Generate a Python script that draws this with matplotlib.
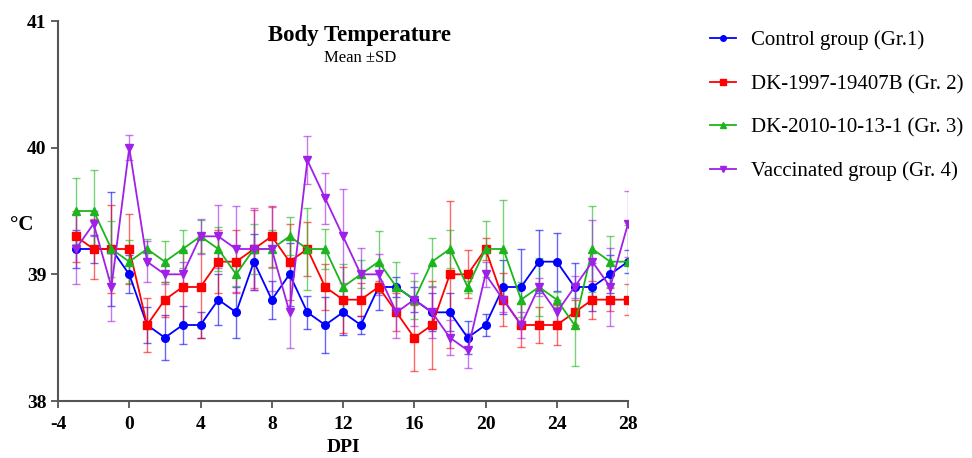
import matplotlib
matplotlib.use("Agg")
import matplotlib.pyplot as plt
from matplotlib.lines import Line2D

plt.rcParams['font.family'] = ['Liberation Serif', 'DejaVu Serif']
plt.rcParams['axes.unicode_minus'] = False

dpi = list(range(-3, 29))

control_mean = [39.2, 39.2, 39.2, 39.0, 38.6, 38.5, 38.6, 38.6, 38.8, 38.7, 39.1,
                38.8, 39.0, 38.7, 38.6, 38.7, 38.6, 38.9, 38.9, 38.8, 38.7, 38.7,
                38.5, 38.6, 38.9, 38.9, 39.1, 39.1, 38.9, 38.9, 39.0, 39.1]
control_sd = [0.15, 0.11, 0.45, 0.15, 0.14, 0.18, 0.15, 0.10, 0.20, 0.20, 0.22,
              0.15, 0.25, 0.13, 0.22, 0.18, 0.07, 0.18, 0.08, 0.10, 0.15, 0.15,
              0.13, 0.09, 0.21, 0.30, 0.25, 0.23, 0.19, 0.19, 0.15, 0.09]

gr2_mean = [39.3, 39.2, 39.2, 39.2, 38.6, 38.8, 38.9, 38.9, 39.1, 39.1, 39.2,
            39.3, 39.1, 39.2, 38.9, 38.8, 38.8, 38.9, 38.7, 38.5, 38.6, 39.0,
            39.0, 39.2, 38.8, 38.6, 38.6, 38.6, 38.7, 38.8, 38.8, 38.8]
gr2_sd = [0.20, 0.24, 0.35, 0.28, 0.21, 0.14, 0.29, 0.40, 0.25, 0.25, 0.31,
          0.24, 0.30, 0.21, 0.18, 0.26, 0.13, 0.05, 0.15, 0.26, 0.35, 0.58,
          0.19, 0.09, 0.21, 0.17, 0.14, 0.16, 0.10, 0.15, 0.09, 0.12]

gr3_mean = [39.5, 39.5, 39.2, 39.1, 39.2, 39.1, 39.2, 39.3, 39.2, 39.0, 39.2,
            39.2, 39.3, 39.2, 39.2, 38.9, 39.0, 39.1, 38.9, 38.8, 39.1, 39.2,
            38.9, 39.2, 39.2, 38.8, 38.9, 38.8, 38.6, 39.2, 39.1, 39.1]
gr3_sd = [0.26, 0.32, 0.22, 0.17, 0.08, 0.16, 0.15, 0.13, 0.17, 0.09, 0.20,
          0.15, 0.15, 0.32, 0.16, 0.18, 0.11, 0.24, 0.20, 0.15, 0.19, 0.15,
          0.05, 0.22, 0.39, 0.14, 0.23, 0.06, 0.32, 0.34, 0.20, 0.29]

gr4_mean = [39.2, 39.4, 38.9, 40.0, 39.1, 39.0, 39.0, 39.3, 39.3, 39.2, 39.2,
            39.2, 38.7, 39.9, 39.6, 39.3, 39.0, 39.0, 38.7, 38.8, 38.7, 38.5,
            38.4, 39.0, 38.8, 38.6, 38.9, 38.7, 38.9, 39.1, 38.9, 39.4]
gr4_sd = [0.28, 0.10, 0.27, 0.10, 0.16, 0.08, 0.10, 0.14, 0.25, 0.34, 0.32,
          0.33, 0.28, 0.19, 0.20, 0.37, 0.21, 0.16, 0.20, 0.21, 0.20, 0.14,
          0.14, 0.10, 0.10, 0.10, 0.07, 0.10, 0.09, 0.33, 0.31, 0.26]

series_labels = ["Control group (Gr.1)", "DK-1997-19407B (Gr. 2)",
                 "DK-2010-10-13-1 (Gr. 3)", "Vaccinated group (Gr. 4)"]
x_ticks = [-4, 0, 4, 8, 12, 16, 20, 24, 28]
y_ticks = [38, 39, 40, 41]

series = [
    (control_mean, control_sd, "#0000FF", "o", 5.5),
    (gr2_mean, gr2_sd, "#FF0000", "s", 5.5),
    (gr3_mean, gr3_sd, "#1DB51D", "^", 5.5),
    (gr4_mean, gr4_sd, "#A020E8", "v", 5.5),
]

fig = plt.figure(figsize=(9.72, 4.58), dpi=100)
ax = fig.add_axes([58 / 972, 1 - 401 / 458, (628 - 58) / 972, (401 - 21) / 458])

handles = []
for (m, sd, col, mk, ms), lab in zip(series, series_labels):
    ax.errorbar(dpi, m, yerr=sd, fmt="none", ecolor=col, elinewidth=1.0,
                capsize=3, capthick=1.0, alpha=0.6, zorder=2)
    ax.plot(dpi, m, color=col, lw=1.3, marker=mk, ms=ms, zorder=3)
    handles.append(Line2D([], [], color=col, lw=1.3, marker=mk, ms=4))

ax.set_xlim(-4, 28)
ax.set_ylim(38, 41)
ax.set_xticks(x_ticks)
ax.set_yticks(y_ticks)
for s in ("top", "right"):
    ax.spines[s].set_visible(False)
for s in ("left", "bottom"):
    ax.spines[s].set_color("#555555")
    ax.spines[s].set_linewidth(1.5)
ax.tick_params(direction="out", length=5, width=1.3, color="#555555",
               labelsize=14)
ax.tick_params(axis="x", pad=6)
for t in ax.get_xticklabels() + ax.get_yticklabels():
    t.set_fontweight("bold")

ax.set_xlabel("DPI", fontsize=14, fontweight="bold", labelpad=4)
fig.text(22 / 972, 1 - 225 / 458, "°C", fontsize=15, fontweight="bold",
         ha="center", va="center")

fig.text(359 / 972, 1 - 35 / 458, "Body Temperature", fontsize=16.5,
         fontweight="bold", ha="center", va="center")
fig.text(360 / 972, 1 - 58 / 458, "Mean ±SD", fontsize=12,
         ha="center", va="center")

fig.legend(handles, series_labels, loc="upper left",
           bbox_to_anchor=(691 / 972, 1 - 12 / 458), frameon=False,
           fontsize=15, handlelength=1.25, handletextpad=0.72,
           labelspacing=1.15)

fig.savefig("out.png", dpi=100)
